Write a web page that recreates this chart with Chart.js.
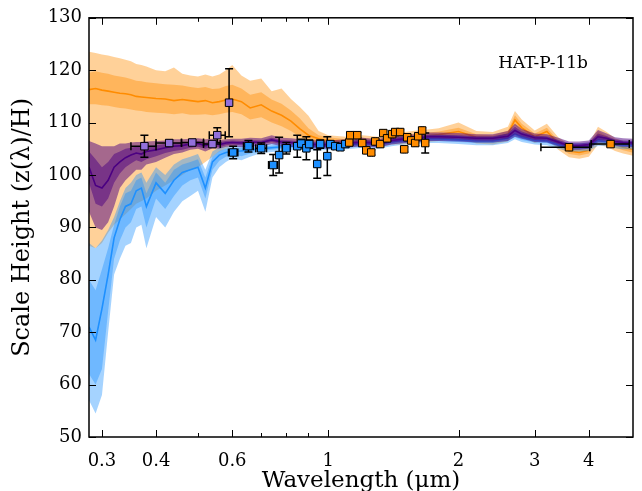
<!DOCTYPE html>
<html><head><meta charset="utf-8">
<script src="https://cdn.jsdelivr.net/npm/chart.js@4.4.1/dist/chart.umd.min.js"></script>
<style>html,body{margin:0;padding:0;background:#fff;}#wrap{width:642px;height:491px;position:relative;}</style>
</head><body><div id="wrap"><canvas id="c"></canvas></div>
<script>
// ---- model wavelength grid (micron) ----
const wavelengths = [0.28,0.29,0.30,0.31,0.32,0.33,0.34,0.35,0.36,0.37,0.38,0.40,0.42,0.44,0.46,0.48,0.50,0.52,0.54,0.56,0.58,0.60,
  0.63,0.66,0.70,0.74,0.78,0.82,0.86,0.90,0.95,1.0,1.1,1.2,1.3,1.4,1.5,1.6,1.7,1.8,2.0,2.2,2.4,2.6,2.7,2.8,3.0,3.2,3.4,3.6,3.8,4.0,4.2,4.4,4.6,4.8,5.1];

// ---- orange model ----
const orangeMedian = [116.3,116.5,116.2,116.0,115.8,115.6,115.5,115.3,115.0,114.9,114.8,114.6,114.5,114.2,114.4,114.2,114.0,114.2,113.8,114.0,114.3,114.5,
  114.0,112.8,113.4,112.2,111.4,110.3,108.8,107.6,106.9,106.6,106.3,106.6,106.3,107.0,107.0,107.3,107.5,107.7,108.3,107.2,107.0,107.8,110.5,109.0,107.3,108.3,106.0,104.6,104.3,104.7,107.5,106.8,105.8,105.3,104.8];
const orange1Lo = [113.5,113.5,113.3,113.2,113.0,112.8,112.7,112.5,112.3,112.2,112.0,111.9,111.8,111.6,111.8,111.5,111.5,111.6,111.4,111.6,111.9,112.0,
  111.6,110.6,111.0,110.0,109.3,108.4,107.3,106.6,106.3,106.1,105.8,106.1,105.8,106.4,106.4,106.7,106.9,107.1,107.6,106.6,106.4,107.1,109.5,108.2,106.7,107.5,105.4,104.0,103.7,104.1,106.6,106.1,105.2,104.7,104.2];
const orange1Hi = [119.5,119.8,119.5,119.3,119.0,118.8,118.6,118.3,118.0,117.9,117.7,117.5,117.3,117.2,117.1,116.8,116.6,116.8,116.4,116.5,117.0,117.2,
  116.5,115.3,115.8,114.4,113.6,112.3,110.8,108.9,107.6,107.2,106.8,107.1,106.8,107.6,107.6,107.9,108.1,108.3,109.0,107.8,107.6,108.5,111.4,109.8,107.9,109.0,106.6,105.2,104.9,105.3,108.4,107.5,106.4,105.9,105.4];
const orange2Lo = [86.5,86.0,87.0,89.0,90.5,91.5,92.5,93.5,94.5,95.0,95.5,97.0,98.0,99.0,100.0,101.0,101.5,102.5,103.5,104.5,105.0,105.5,
  106.0,106.0,106.0,106.0,106.0,106.0,105.9,105.8,105.7,105.6,105.3,105.6,105.3,105.8,105.8,106.1,106.3,106.5,107.0,106.0,105.8,106.4,108.5,107.4,106.1,106.8,104.8,103.4,103.1,103.5,105.8,105.4,104.6,104.1,103.6];
const orange2Hi = [123.5,123.3,123.0,122.8,122.5,122.3,122.0,121.7,121.2,121.0,120.7,120.0,119.8,120.5,119.3,119.0,118.8,119.2,118.8,119.2,120.0,121.0,
  119.0,118.0,118.4,116.0,116.5,114.5,113.0,111.3,108.4,107.6,107.3,107.6,107.3,108.2,108.2,108.5,108.7,108.9,110.0,108.4,108.2,109.2,112.2,110.6,108.5,109.8,107.2,105.8,105.5,105.9,109.2,108.2,107.0,106.5,106.0];

// ---- purple model ----
const purpleMedian = [101.5,98.0,97.5,99.0,101.5,102.5,103.3,103.8,104.2,104.0,104.5,104.8,105.2,105.5,105.6,105.9,106.0,105.6,106.0,105.8,106.1,106.2,
  106.1,106.3,106.2,106.7,106.3,106.2,106.0,105.9,105.8,105.8,106.0,106.3,106.0,106.6,106.9,107.0,107.3,107.3,107.2,107.0,107.0,107.4,108.5,107.8,107.1,107.0,106.3,105.6,105.6,105.8,107.3,107.0,106.4,106.2,106.1];
const purple1Lo = [98.5,94.5,94.0,95.5,98.5,100.3,101.5,102.2,102.8,102.5,103.0,103.6,104.2,104.6,104.8,105.2,105.4,105.0,105.5,105.3,105.7,105.8,
  105.7,105.9,105.8,106.3,105.9,105.8,105.6,105.5,105.4,105.4,105.6,105.9,105.6,106.2,106.5,106.6,106.9,106.9,106.8,106.6,106.6,106.9,107.8,107.3,106.7,106.6,105.9,105.2,105.2,105.4,106.7,106.6,106.0,105.8,105.7];
const purple1Hi = [104.5,103.0,101.5,102.5,104.0,104.5,105.0,105.2,105.4,105.3,105.5,105.7,105.9,106.1,106.2,106.4,106.5,106.2,106.5,106.3,106.5,106.6,
  106.5,106.7,106.6,107.1,106.7,106.6,106.4,106.3,106.2,106.2,106.4,106.7,106.4,107.0,107.3,107.4,107.7,107.7,107.6,107.4,107.4,107.9,109.2,108.3,107.5,107.4,106.7,106.0,106.0,106.2,107.9,107.4,106.8,106.6,106.5];
const purple2Lo = [93.0,90.0,89.5,91.0,94.0,97.5,99.0,100.0,101.0,101.0,102.0,102.5,103.3,104.0,104.3,104.8,105.0,104.5,105.1,105.0,105.4,105.5,
  105.3,105.5,105.4,105.9,105.5,105.4,105.2,105.1,105.0,105.0,105.2,105.5,105.2,105.8,106.1,106.2,106.5,106.5,106.4,106.2,106.2,106.5,107.3,106.9,106.3,106.2,105.5,104.8,104.8,105.0,106.2,106.2,105.6,105.4,105.3];
const purple2Hi = [106.5,106.0,105.5,105.5,105.5,106.0,106.0,106.2,106.3,106.3,106.4,106.5,106.6,106.8,106.8,106.9,107.0,106.8,106.9,106.7,106.8,106.9,
  106.9,107.1,107.0,107.6,107.1,107.0,106.8,106.7,106.6,106.6,106.8,107.1,106.8,107.4,107.7,107.8,108.1,108.1,108.0,107.8,107.8,108.4,109.8,108.8,107.9,107.8,107.1,106.4,106.4,106.6,108.6,107.9,107.2,107.0,106.9];

// ---- blue model ----
const blueMedian = [71.0,68.5,74.5,81.0,88.0,91.5,94.0,94.5,97.0,97.5,94.0,98.5,96.5,99.0,100.5,101.0,101.5,97.5,102.5,103.8,104.3,104.5,
  104.6,104.8,105.0,105.2,105.4,105.5,105.6,105.5,105.5,105.5,105.7,106.0,105.8,106.3,106.6,106.7,106.9,106.9,106.7,106.5,106.5,107.0,107.8,107.2,106.6,106.5,105.8,105.3,105.3,105.4,106.6,106.3,105.9,105.7,105.7];
const blue1Lo = [62.0,60.0,63.0,74.0,84.0,87.5,90.0,91.0,93.5,94.0,90.0,95.5,93.5,96.0,98.0,99.0,99.5,95.5,101.0,102.7,103.5,104.0,
  103.6,104.1,104.6,104.8,105.0,105.1,105.2,105.1,105.1,105.1,105.3,105.6,105.4,105.9,106.2,106.3,106.5,106.5,106.3,106.1,106.1,106.5,107.2,106.7,106.2,106.1,105.4,104.9,104.9,105.0,106.1,105.9,105.5,105.3,105.3];
const blue1Hi = [80.0,78.0,82.0,86.0,90.5,94.0,96.5,97.0,99.0,99.5,96.5,100.5,98.5,101.0,102.0,102.5,103.0,99.5,103.5,104.6,105.0,105.1,
  105.2,105.3,105.4,105.6,105.8,105.9,106.0,105.9,105.9,105.9,106.1,106.4,106.2,106.7,107.0,107.1,107.3,107.3,107.1,106.9,106.9,107.5,108.4,107.7,107.0,106.9,106.2,105.7,105.7,105.8,107.1,106.7,106.3,106.1,106.1];
const blue2Lo = [57.0,54.5,58.0,70.0,81.0,84.0,86.5,87.0,90.0,90.5,86.0,92.0,90.0,93.0,95.0,96.0,97.0,93.0,99.5,101.5,102.5,103.2,
  102.8,103.5,104.2,104.4,104.6,104.7,104.8,104.7,104.7,104.7,104.9,105.2,105.0,105.5,105.8,105.9,106.1,106.1,105.9,105.7,105.7,106.1,106.8,106.3,105.8,105.7,105.0,104.5,104.5,104.6,105.6,105.5,105.1,104.9,104.9];
const blue2Hi = [87.0,86.0,87.5,89.5,92.0,95.0,97.5,98.5,100.0,100.5,98.5,101.5,100.0,102.0,103.0,103.5,104.0,101.0,104.5,105.3,105.5,105.6,
  105.6,105.7,105.8,106.0,106.2,106.3,106.4,106.3,106.3,106.3,106.5,106.8,106.6,107.1,107.4,107.5,107.7,107.7,107.5,107.3,107.3,107.9,108.8,108.1,107.4,107.3,106.6,106.1,106.1,106.2,107.6,107.1,106.7,106.5,106.5];

// ---- observed points ----
const purpleWl   = [0.376,0.429,0.485,0.540,0.554,0.590];
const purpleVal  = [105.5,106.1,106.2,105.9,107.6,113.8];
const purpleErr  = [2.1,0.6,0.5,0.5,1.4,6.5];
const purpleWlLo = [0.350,0.400,0.458,0.515,0.531,0.590];
const purpleWlHi = [0.400,0.458,0.515,0.563,0.578,0.590];

const blueWl   = [0.603,0.654,0.700,0.746,0.770,0.800,0.848,0.866,0.890,0.904,0.943,0.958,0.995,1.011,1.038,1.066,1.095];
const blueVal  = [104.3,105.5,105.1,101.9,103.8,105.1,105.5,106.0,105.1,105.9,102.1,105.9,103.6,105.9,105.5,105.3,105.9];
const blueErr  = [1.2,1.1,1.0,2.0,3.4,1.1,2.1,0.8,2.2,0.8,2.7,0.8,3.7,0.6,0.6,0.6,0.6];
const blueWlLo = [0.588,0.637,0.680,0.728,0.760,0.783,0.838,0.857,0.880,0.895,0.933,0.948,0.985,1.001,1.028,1.056,1.085];
const blueWlHi = [0.618,0.671,0.720,0.764,0.780,0.817,0.858,0.875,0.900,0.913,0.953,0.968,1.005,1.021,1.048,1.076,1.105];

const orangeWl   = [1.118,1.124,1.167,1.198,1.224,1.257,1.284,1.318,1.340,1.368,1.405,1.428,1.466,1.498,1.522,1.555,1.588,1.614,1.648,1.675,3.60,4.49];
const orangeVal  = [106.2,107.6,107.6,106.1,104.7,104.3,106.4,105.9,108.0,107.0,107.8,108.2,108.2,104.9,107.2,106.6,106.1,107.4,108.5,106.1,105.3,105.9];
const orangeErr  = [0.5,0.5,0.5,0.5,0.5,0.5,0.5,0.5,0.5,0.5,0.5,0.5,0.5,0.5,0.5,0.5,0.5,0.5,0.5,1.9,0.3,0.3];
const orangeWlLo = [1.110,1.116,1.159,1.190,1.216,1.249,1.276,1.310,1.332,1.360,1.397,1.420,1.458,1.490,1.514,1.547,1.580,1.606,1.640,1.667,3.10,4.05];
const orangeWlHi = [1.126,1.132,1.175,1.206,1.232,1.265,1.292,1.326,1.348,1.376,1.413,1.436,1.474,1.506,1.530,1.563,1.596,1.622,1.656,1.683,4.02,4.96];

// ---- axes ----
const xTickValues = [0.3,0.4,0.6,1,2,3,4];
const xTickLabels = ['0.3','0.4','0.6','1','2','3','4'];
const xMinorTicks = [0.5,0.7,0.8,0.9];
const yTickValues = [50,60,70,80,90,100,110,120,130];
const planetLabel = 'HAT-P-11b';

Chart.defaults.font.family = '"DejaVu Serif", serif';
Chart.defaults.color = '#000';

function series(arr){ return wavelengths.map((w,i)=>({x:w,y:arr[i]})); }
function bandSets(lo, hi, color){
  return [
    {data:series(lo), borderWidth:0, pointRadius:0, fill:false},
    {data:series(hi), borderWidth:0, pointRadius:0, fill:'-1', backgroundColor:color}
  ];
}
function lineSet(arr, color){
  return {data:series(arr), borderColor:color, borderWidth:1.6, pointRadius:0, fill:false};
}
function pointSet(wl,val,err,lo,hi,color){
  return {data:wl.map((w,i)=>({x:w,y:val[i],ye:err[i],xl:lo[i],xh:hi[i]})), showLine:false,
    pointStyle:'rect', pointRadius:5.3, backgroundColor:color, borderColor:'#000', borderWidth:1, errorBars:true};
}

const ORANGE = 'rgb(255,140,0)', PURPLE='rgb(75,0,130)', BLUE='rgb(30,144,255)';
const bottomToTop = [
  ...bandSets(orange2Lo, orange2Hi, 'rgba(255,140,0,0.4)'),
  ...bandSets(orange1Lo, orange1Hi, 'rgba(255,140,0,0.4)'),
  lineSet(orangeMedian, ORANGE),
  ...bandSets(blue2Lo, blue2Hi, 'rgba(30,144,255,0.4)'),
  ...bandSets(blue1Lo, blue1Hi, 'rgba(30,144,255,0.4)'),
  lineSet(blueMedian, BLUE),
  ...bandSets(purple2Lo, purple2Hi, 'rgba(75,0,130,0.5)'),
  ...bandSets(purple1Lo, purple1Hi, 'rgba(75,0,130,0.5)'),
  lineSet(purpleMedian, PURPLE),
  pointSet(blueWl, blueVal, blueErr, blueWlLo, blueWlHi, 'rgb(30,144,255)'),
  pointSet(orangeWl, orangeVal, orangeErr, orangeWlLo, orangeWlHi, 'rgb(255,140,0)'),
  pointSet(purpleWl, purpleVal, purpleErr, purpleWlLo, purpleWlHi, 'rgb(147,112,219)')
];
bottomToTop.forEach((d,i)=>{ d.order = bottomToTop.length - i; d.tension = 0; });

const errorBarPlugin = {
  id:'errorBars',
  beforeDatasetDraw(chart, args){
    const ds = chart.data.datasets[args.index];
    if(!ds.errorBars) return;
    const {ctx, scales:{x,y}} = chart;
    ctx.save();
    ctx.strokeStyle = '#000'; ctx.lineWidth = 1.5;
    ds.data.forEach(p=>{
      const px = x.getPixelForValue(p.x), py = y.getPixelForValue(p.y);
      const pyT = y.getPixelForValue(p.y + p.ye), pyB = y.getPixelForValue(p.y - p.ye);
      ctx.beginPath();
      ctx.moveTo(px, pyT); ctx.lineTo(px, pyB);
      ctx.moveTo(px-4, pyT); ctx.lineTo(px+4, pyT);
      ctx.moveTo(px-4, pyB); ctx.lineTo(px+4, pyB);
      if(p.xh > p.xl){
        const pl = x.getPixelForValue(p.xl), pr = x.getPixelForValue(p.xh);
        ctx.moveTo(pl, py); ctx.lineTo(pr, py);
        ctx.moveTo(pl, py-4); ctx.lineTo(pl, py+4);
        ctx.moveTo(pr, py-4); ctx.lineTo(pr, py+4);
      }
      ctx.stroke();
    });
    ctx.restore();
  }
};

const framePlugin = {
  id:'frameTicks',
  afterDraw(chart){
    const {ctx, chartArea:a, scales:{x,y}} = chart;
    ctx.save();
    ctx.strokeStyle = '#000'; ctx.lineWidth = 1;
    const seg=(x1,y1,x2,y2)=>{ctx.beginPath();ctx.moveTo(x1,y1);ctx.lineTo(x2,y2);ctx.stroke();};
    xTickValues.forEach(v=>{ const p=Math.round(x.getPixelForValue(v))+0.5; seg(p,a.bottom,p,a.bottom-7); seg(p,a.top,p,a.top+7); });
    xMinorTicks.forEach(v=>{ const p=Math.round(x.getPixelForValue(v))+0.5; seg(p,a.bottom,p,a.bottom-4); seg(p,a.top,p,a.top+4); });
    yTickValues.forEach(v=>{ const p=Math.round(y.getPixelForValue(v))+0.5; seg(a.left,p,a.left+7,p); seg(a.right,p,a.right-7,p); });
    ctx.lineWidth = 1.5;
    ctx.strokeRect(a.left, a.top, a.right-a.left, a.bottom-a.top);
    ctx.fillStyle = '#000';
    ctx.font = '17px "DejaVu Serif"';
    ctx.textAlign = 'right'; ctx.textBaseline = 'middle';
    ctx.fillText(planetLabel, a.right - 45, a.top + 46);
    ctx.restore();
  }
};

new Chart(document.getElementById('c'), {
  type:'line',
  data:{datasets:bottomToTop},
  options:{
    responsive:true, maintainAspectRatio:false, animation:false, events:[],
    layout:{padding:{top:16,right:9,left:0,bottom:0}},
    plugins:{legend:{display:false}, tooltip:{enabled:false}},
    scales:{
      x:{type:'logarithmic', min:0.28, max:5.06,
        grid:{display:false, drawTicks:false}, border:{display:false},
        afterBuildTicks:s=>{ s.ticks = xTickValues.map(v=>({value:v})); },
        ticks:{autoSkip:false, maxRotation:0, padding:14, font:{size:18}, callback:(v,i)=>xTickLabels[i]},
        title:{display:true, text:'Wavelength (μm)', font:{size:23}, padding:{top:0,bottom:-4}},
        afterFit:s=>{ s.height = 54; }
      },
      y:{type:'linear', min:50, max:130,
        grid:{display:false, drawTicks:false}, border:{display:false},
        afterBuildTicks:s=>{ s.ticks = yTickValues.map(v=>({value:v})); },
        ticks:{padding:7, font:{size:18}},
        title:{display:true, text:'Scale Height (z(λ)/H)', font:{size:24}, padding:{top:8,bottom:0}},
        afterFit:s=>{ s.width = 89; }
      }
    }
  },
  plugins:[errorBarPlugin, framePlugin]
});
</script></body></html>
